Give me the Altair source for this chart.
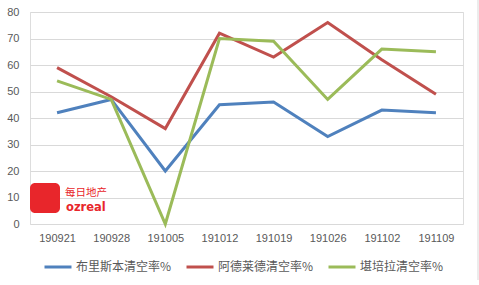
import altair as alt
import pandas as pd

weeks = ["190921", "190928", "191005", "191012", "191019", "191026", "191102", "191109"]
series_names = ["布里斯本清空率%", "阿德莱德清空率%", "堪培拉清空率%"]
brisbane = [42, 47, 20, 45, 46, 33, 43, 42]
adelaide = [59, 48, 36, 72, 63, 76, 62, 49]
canberra = [54, 47, 0, 70, 69, 47, 66, 65]
colors = ["#4F81BD", "#C0504D", "#9BBB59"]

rows = []
for name, vals in zip(series_names, [brisbane, adelaide, canberra]):
    for w, v in zip(weeks, vals):
        rows.append({"week": w, "series": name, "value": v})
df = pd.DataFrame(rows)

FONT = "Noto Sans CJK SC"

lines = alt.Chart(df).mark_line(strokeWidth=3).encode(
    x=alt.X("week:N", sort=weeks, title=None,
            scale=alt.Scale(type="point", padding=0.5),
            axis=alt.Axis(labelAngle=0, ticks=False, domain=False, grid=False,
                          labelPadding=8, labelFontSize=11, labelColor="#595959",
                          labelFont="Liberation Sans")),
    y=alt.Y("value:Q", title=None,
            scale=alt.Scale(domain=[0, 80]),
            axis=alt.Axis(values=list(range(0, 81, 10)), ticks=False, domain=False,
                          gridColor="#D9D9D9", gridWidth=1, labelPadding=11,
                          labelFontSize=11, labelColor="#595959",
                          labelFont="Liberation Sans")),
    color=alt.Color("series:N", sort=series_names,
                    scale=alt.Scale(domain=series_names, range=colors),
                    legend=alt.Legend(title=None, orient="none", direction="horizontal",
                                      legendX=13, legendY=240,
                                      symbolType="stroke", symbolSize=729,
                                      symbolStrokeWidth=3, labelOffset=3,
                                      columnPadding=8,
                                      labelFontSize=12, labelColor="#595959",
                                      labelFont=FONT)),
    order=alt.Order("series_order:Q"),
).transform_calculate(
    series_order="indexof(" + str(series_names) + ", datum.series)"
)

# watermark logo
logo_box = alt.Chart(pd.DataFrame({"a": [0]})).mark_rect(
    color="#E8262B", cornerRadius=5
).encode(x=alt.value(0), x2=alt.value(30), y=alt.value(171), y2=alt.value(201))
logo_cn = alt.Chart(pd.DataFrame({"t": ["每日地产"]})).mark_text(
    color="#E8262B", fontSize=10.5, font=FONT, align="left", baseline="middle"
).encode(x=alt.value(35), y=alt.value(181), text="t:N")
logo_en = alt.Chart(pd.DataFrame({"t": ["ozreal"]})).mark_text(
    color="#E8262B", fontSize=11.5, font="DejaVu Sans", fontWeight="bold",
    align="left", baseline="middle"
).encode(x=alt.value(36), y=alt.value(196), text="t:N")

border = alt.Chart(pd.DataFrame({"a": [0]})).mark_rule(color="#D9D9D9").encode(
    x=alt.value(448), y=alt.value(-12), y2=alt.value(268)
)

chart = alt.layer(logo_box, logo_cn, logo_en, lines, border).properties(
    width=433, height=212,
    autosize=alt.AutoSizeParams(type="none"),
    padding={"left": 30, "top": 12, "right": 16, "bottom": 61},
).configure_view(stroke=None).configure(background="white")

chart.save("out.html", embed_options={"renderer": "svg", "actions": False})
